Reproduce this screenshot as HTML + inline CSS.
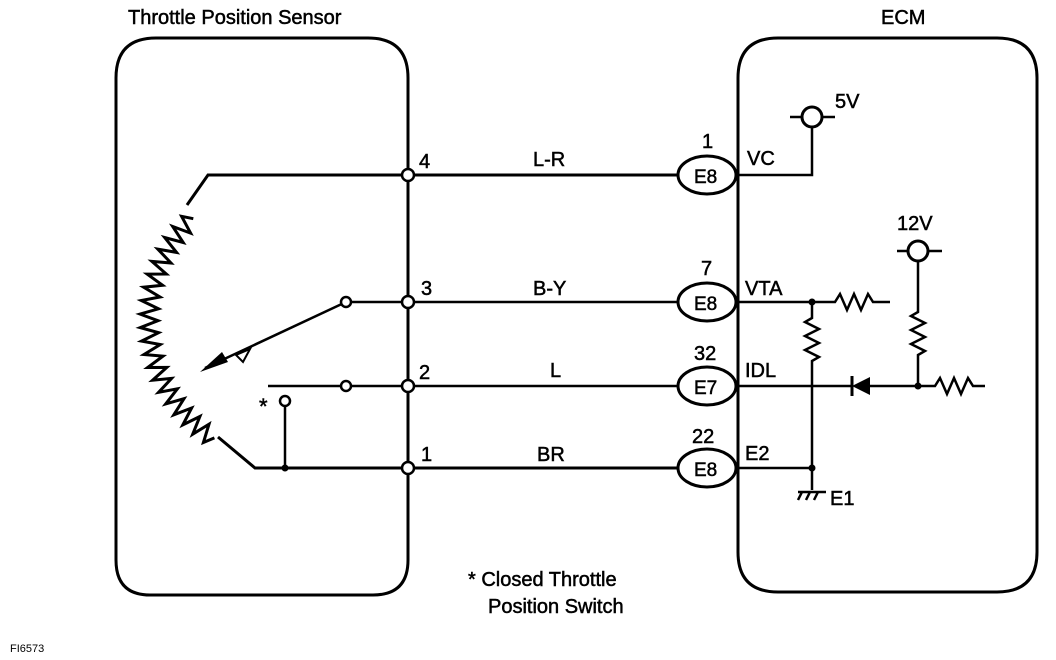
<!DOCTYPE html>
<html><head><meta charset="utf-8"><style>
html,body{margin:0;padding:0;background:#fff;width:1056px;height:660px;overflow:hidden}
svg text{font-family:"Liberation Sans",sans-serif;fill:#000}
</style></head><body>
<svg width="1056" height="660" viewBox="0 0 1056 660" xmlns="http://www.w3.org/2000/svg">
<g fill="none" stroke="#000" stroke-width="3">
<path d="M156 38 H368 Q408 38 408 78 V560 Q408 595 373 595 H150 Q116 595 116 560 V78 Q116 38 156 38"/>
<path d="M778 38 H997 Q1037 38 1037 78 V552 Q1037 592 997 592 H778 Q738 592 738 552 V78 Q738 38 778 38"/>
<path d="M408 175 H678 M408 468 H678"/>
<path d="M408 302 H678 M408 386 H678" stroke-width="2.5"/>
<path d="M408 175 H208 L187 205"/>
<path id="zz" d=""/>
<path d="M218 437 L255 468 H408"/>
<path d="M346 302 L205 368" stroke-width="2.5"/>
<path d="M352 302 H408 M268 386 H340 M352 386 H408" stroke-width="2.5"/>
<path d="M285 407 V468" stroke-width="2.5"/>
<path d="M737 175 H812 V127 M790 117 H835" stroke-width="2.5"/>
<path d="M737 302 H812 H835 l5 -8 l7 16 l7 -16 l7 16 l7 -16 l5 8 H890" stroke-width="2.5"/>
<path d="M812 302 V318 l-7 4 l14 7 l-14 7 l14 7 l-14 7 l14 7 l-7 4 V490" stroke-width="2.5"/>
<path d="M737 468 H812" stroke-width="2.5"/>
<path d="M737 386 H852 M870 386 H918 H935 l5 -8 l7 16 l7 -16 l7 16 l7 -16 l5 8 H985" stroke-width="2.5"/>
<path d="M918 261 V312 l-7 4 l14 7 l-14 7 l14 7 l-14 7 l14 7 l-7 4 V386 M897 251 H942" stroke-width="2.5"/>
<path d="M798 492 H826 M802 492 l-4 8 M810 492 l-4 8 M818 492 l-4 8" stroke-width="2.5"/>
<ellipse cx="707" cy="175" rx="29" ry="19"/>
<ellipse cx="707" cy="302" rx="29" ry="19"/>
<ellipse cx="707" cy="386" rx="29" ry="19"/>
<ellipse cx="707" cy="468" rx="29" ry="19"/>
<circle cx="812" cy="117" r="10" fill="#fff"/>
<circle cx="918" cy="251" r="10" fill="#fff"/>
</g>
<polygon points="852,386 870,377 870,395" fill="#000"/>
<path d="M852 376 V396" stroke="#000" stroke-width="3"/>
<polygon points="200,372 222,352 228,362" fill="#000"/>
<path d="M236 355 L250 349 L243 362 Z" fill="none" stroke="#000" stroke-width="2"/>
<g fill="#fff" stroke="#000" stroke-width="2.5">
<circle cx="408" cy="175" r="6"/><circle cx="408" cy="302" r="6"/>
<circle cx="408" cy="386" r="6"/><circle cx="408" cy="468" r="6"/>
<circle cx="346" cy="302" r="5"/><circle cx="346" cy="386" r="5"/>
<circle cx="285" cy="401" r="5"/>
</g>
<g fill="#000"><circle cx="285" cy="468" r="3.5"/><circle cx="812" cy="302" r="3.5"/>
<circle cx="812" cy="468" r="3.5"/><circle cx="918" cy="386" r="3.5"/></g>
<g font-size="20" stroke="#000" stroke-width="0.5">
<text x="128" y="24">Throttle Position Sensor</text>
<text x="881" y="24">ECM</text>
<text x="419" y="168">4</text><text x="421" y="295">3</text>
<text x="419" y="379">2</text><text x="421" y="461">1</text>
<text x="533" y="166">L-R</text><text x="533" y="295">B-Y</text>
<text x="550" y="377">L</text><text x="537" y="461">BR</text>
<text x="702" y="148">1</text><text x="701" y="275">7</text>
<text x="694" y="360">32</text><text x="692" y="443">22</text>
<text x="694" y="183" font-size="19">E8</text><text x="694" y="310" font-size="19">E8</text>
<text x="694" y="394" font-size="19">E7</text><text x="694" y="476" font-size="19">E8</text>
<text x="747" y="165">VC</text><text x="745" y="295">VTA</text>
<text x="745" y="377">IDL</text><text x="745" y="460">E2</text>
<text x="835" y="108">5V</text><text x="897" y="230">12V</text>
<text x="830" y="505">E1</text>
<text x="259" y="414" font-size="22">*</text>
<text x="468" y="586">* Closed Throttle</text>
<text x="488" y="613">Position Switch</text>
<text x="10" y="652" font-size="11" stroke-width="0">FI6573</text>
</g>
<script>
(function(){var cx=290,cy=320,r=140,a0=Math.atan2(210-cy,185-cx),a1=Math.atan2(437-cy,215-cx);
if(a0<0)a0+=2*Math.PI; if(a1<0)a1+=2*Math.PI;var n=40,d="";
for(var i=0;i<=n;i++){var t=a0+(a1-a0)*i/n;var rr=r+(i==0||i==n?0:(i%2?10:-8));
d+=(i?"L":"M")+(cx+rr*Math.cos(t)).toFixed(1)+" "+(cy+rr*Math.sin(t)).toFixed(1)+" ";}
document.getElementById("zz").setAttribute("d",d);})();
</script>
</svg>
</body></html>
